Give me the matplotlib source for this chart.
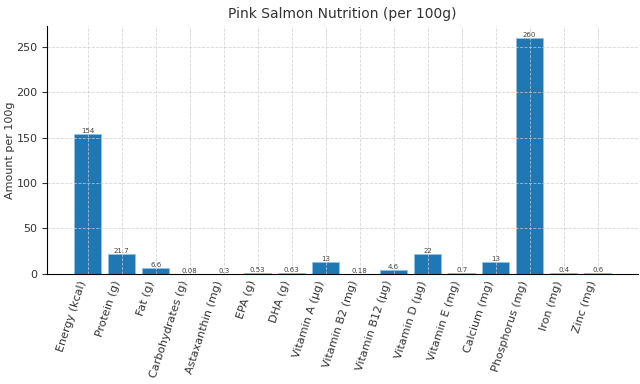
import matplotlib
matplotlib.use("Agg")
import matplotlib.pyplot as plt

categories = ["Energy (kcal)", "Protein (g)", "Fat (g)", "Carbohydrates (g)", "Astaxanthin (mg)",
              "EPA (g)", "DHA (g)", "Vitamin A (µg)", "Vitamin B2 (mg)", "Vitamin B12 (µg)",
              "Vitamin D (µg)", "Vitamin E (mg)", "Calcium (mg)", "Phosphorus (mg)", "Iron (mg)", "Zinc (mg)"]
values = [154, 21.7, 6.6, 0.08, 0.3, 0.53, 0.63, 13, 0.18, 4.6, 22, 0.7, 13, 260, 0.4, 0.6]
labels = ["154", "21.7", "6.6", "0.08", "0.3", "0.53", "0.63", "13", "0.18", "4.6", "22", "0.7", "13", "260", "0.4", "0.6"]

txt = "#333333"
fig, ax = plt.subplots(figsize=(6.4, 3.84), dpi=100)
x = range(len(categories))
bars = ax.bar(x, values, color="#1f77b4", width=0.8, edgecolor="#8fc3e6", linewidth=0.6)
for b, lab in zip(bars, labels):
    ax.text(b.get_x() + b.get_width() / 2, b.get_height(), lab, ha="center", va="bottom",
            fontsize=5, color="#444444")
ax.set_xticks(list(x))
ax.set_xticklabels(categories, rotation=72, ha="right", fontsize=8, color=txt)
ax.tick_params(axis="y", labelsize=8, colors=txt)
ax.tick_params(axis="x", length=0, pad=4)
ax.set_ylabel("Amount per 100g", fontsize=8, color=txt)
ax.yaxis.set_label_coords(-0.054, 0.5)
ax.set_title("Pink Salmon Nutrition (per 100g)", fontsize=10, color=txt)
ax.grid(True, linestyle="--", color="#cccccc", linewidth=0.6, alpha=0.8)
ax.spines["top"].set_visible(False)
ax.spines["right"].set_visible(False)
fig.subplots_adjust(left=0.074, right=0.997, top=0.932, bottom=0.287)
fig.savefig("out.png", dpi=100)
